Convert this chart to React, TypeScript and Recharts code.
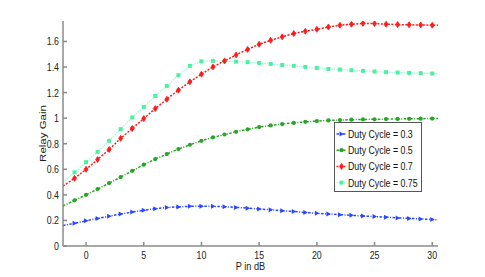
import React from "react";
import { Legend, Line, LineChart, XAxis, YAxis } from "recharts";

const P_DB = [-2, -1, 0, 1, 2, 3, 4, 5, 6, 7, 8, 9, 10, 11, 12, 13, 14, 15, 16, 17, 18, 19, 20, 21, 22, 23, 24, 25, 26, 27, 28, 29, 30, 31];
const DUTY_03 = [0.16, 0.177, 0.197, 0.215, 0.233, 0.25, 0.265, 0.28, 0.292, 0.301, 0.306, 0.31, 0.311, 0.31, 0.307, 0.302, 0.296, 0.29, 0.283, 0.276, 0.27, 0.262, 0.256, 0.25, 0.245, 0.24, 0.235, 0.23, 0.225, 0.22, 0.216, 0.212, 0.207, 0.203];
const DUTY_05 = [0.313, 0.357, 0.4, 0.445, 0.492, 0.539, 0.588, 0.636, 0.68, 0.719, 0.758, 0.792, 0.823, 0.85, 0.872, 0.893, 0.913, 0.93, 0.943, 0.954, 0.963, 0.971, 0.977, 0.982, 0.985, 0.988, 0.99, 0.991, 0.993, 0.994, 0.995, 0.996, 0.997, 0.998];
const DUTY_07 = [0.469, 0.529, 0.6, 0.677, 0.755, 0.842, 0.919, 0.997, 1.075, 1.148, 1.219, 1.284, 1.344, 1.401, 1.448, 1.495, 1.538, 1.578, 1.609, 1.636, 1.662, 1.68, 1.695, 1.713, 1.727, 1.734, 1.742, 1.74, 1.735, 1.732, 1.73, 1.729, 1.727, 1.726];
const DUTY_075 = [0.498, 0.576, 0.656, 0.737, 0.823, 0.914, 1.005, 1.088, 1.174, 1.252, 1.336, 1.409, 1.445, 1.448, 1.445, 1.442, 1.438, 1.432, 1.424, 1.416, 1.409, 1.401, 1.393, 1.385, 1.38, 1.375, 1.37, 1.365, 1.36, 1.357, 1.354, 1.352, 1.349, 1.347];

const X_TICKS = [0, 5, 10, 15, 20, 25, 30];
const Y_TICKS = [0, 0.2, 0.4, 0.6, 0.8, 1, 1.2, 1.4, 1.6];
const SERIES_NAMES = ["Duty Cycle = 0.3", "Duty Cycle = 0.5", "Duty Cycle = 0.7", "Duty Cycle = 0.75"];

const data = P_DB.map((p, i) => ({ p, d03: DUTY_03[i], d05: DUTY_05[i], d07: DUTY_07[i], d075: DUTY_075[i] }));

const FONT = "'Liberation Sans', Arial, sans-serif";
const AXIS = "#8a8a8a";

const BLUE = "#2a45ff";
const GREEN = "#28a428";
const RED = "#ff1a1a";
const CYAN = "#4cf0a0";
const CYAN_LINE = "#9dffd6";

type Shape = "tri" | "circle" | "plus" | "square";

function marker(shape: Shape, color: string, cx: number, cy: number, key?: string | number) {
  if (shape === "tri") return <path key={key} d={`M${cx - 2},${cy - 2.5}L${cx + 2.5},${cy}L${cx - 2},${cy + 2.5}Z`} fill={color} />;
  if (shape === "circle") return <circle key={key} cx={cx} cy={cy} r={2.1} fill={color} />;
  if (shape === "plus")
    return <path key={key} d={`M${cx - 2},${cy}L${cx},${cy - 3}L${cx + 2},${cy}L${cx},${cy + 3}Z`} fill={color} stroke={color} strokeWidth={0.8} />;
  return <rect key={key} x={cx - 2} y={cy - 2} width={4} height={4} fill={color} />;
}

function dotFor(shape: Shape, color: string) {
  return (props: any) => {
    const { cx, cy, payload, index } = props;
    if (payload.p < -1.5 || payload.p > 30.2 || cx == null) return <g key={`e${index}`} />;
    return marker(shape, color, cx, cy, `d${index}`);
  };
}

function XTick(props: any) {
  const { x, y, payload } = props;
  return (
    <text transform={`translate(${x},${y}) scale(0.8,1)`} textAnchor="middle" dominantBaseline="hanging" fontSize={11} fontFamily={FONT} fill="#222">
      {payload.value}
    </text>
  );
}

function YTick(props: any) {
  const { x, y, payload } = props;
  return (
    <text transform={`translate(${x},${y + 4}) scale(0.8,1)`} textAnchor="end" fontSize={11} fontFamily={FONT} fill="#222">
      {payload.value}
    </text>
  );
}

const legendItems: { shape: Shape; color: string; dash: string; width: number }[] = [
  { shape: "tri", color: BLUE, dash: "2.5 1.5 1 1.5", width: 1.5 },
  { shape: "circle", color: GREEN, dash: "2.5 1.5 1 1.5", width: 1.5 },
  { shape: "plus", color: RED, dash: "2 1.5", width: 1.5 },
  { shape: "square", color: CYAN, dash: "1.5 1", width: 1 },
];

function LegendBox() {
  return (
    <svg width={88} height={70} style={{ display: "block" }}>
      <rect x={0.5} y={0.5} width={87} height={69} fill="#fff" stroke="#555" strokeWidth={1} />
      {legendItems.map((it, i) => {
        const cy = 12 + i * 16.2;
        return (
          <g key={i}>
            <line x1={2.5} x2={13} y1={cy} y2={cy} stroke={it.shape === "square" ? CYAN_LINE : it.color} strokeWidth={it.width} strokeDasharray={it.dash} />
            {marker(it.shape, it.color, 7.5, cy)}
            <text transform={`translate(14,${cy + 4}) scale(0.8,1)`} fontSize={11} fontFamily={FONT} fill="#111">
              {SERIES_NAMES[i]}
            </text>
          </g>
        );
      })}
    </svg>
  );
}

export default function App() {
  return (
    <div style={{ position: "absolute", left: 0, top: 0, background: "#fff" }}>
      <LineChart width={485} height={277} data={data} margin={{ top: 21, right: 47, bottom: 0, left: 0 }}>
        <XAxis
          dataKey="p"
          type="number"
          domain={[-2, 30.5]}
          allowDataOverflow
          ticks={X_TICKS}
          height={31}
          tickSize={-4}
          tickMargin={9}
          tick={<XTick />}
          stroke={AXIS}
          strokeWidth={1.5}
          label={{
            content: () => (
              <text transform="translate(250.5,270) scale(0.8,1)" textAnchor="middle" fontSize={11.5} fontFamily={FONT} fill="#222">
                P in dB
              </text>
            ),
          }}
        />
        <XAxis xAxisId="top" orientation="top" dataKey="p" type="number" domain={[-2, 30.5]} allowDataOverflow ticks={X_TICKS} height={0} tickSize={-4} tick={false} stroke="#666" />
        <YAxis
          type="number"
          domain={[0, 1.76]}
          allowDataOverflow
          ticks={Y_TICKS}
          width={63}
          tickSize={-4}
          tickMargin={8}
          tick={<YTick />}
          stroke={AXIS}
          strokeWidth={1.5}
          label={{
            content: () => (
              <text transform="translate(46,133.5) rotate(-90) scale(1,0.8)" textAnchor="middle" fontSize={11.5} fontFamily={FONT} fill="#222">
                Relay Gain
              </text>
            ),
          }}
        />
        <YAxis yAxisId="right" orientation="right" type="number" domain={[0, 1.76]} ticks={Y_TICKS} width={0} tickSize={-4} tick={false} stroke={AXIS} strokeWidth={1.5} />
        <Line dataKey="d075" name={SERIES_NAMES[3]} stroke={CYAN_LINE} strokeWidth={1.3} strokeDasharray="1.5 1" dot={dotFor("square", CYAN)} isAnimationActive={false} />
        <Line dataKey="d03" name={SERIES_NAMES[0]} stroke={BLUE} strokeWidth={1.5} strokeDasharray="2.5 1.5 1 1.5" dot={dotFor("tri", BLUE)} isAnimationActive={false} />
        <Line dataKey="d05" name={SERIES_NAMES[1]} stroke={GREEN} strokeWidth={1.5} strokeDasharray="2.5 1.5 1 1.5" dot={dotFor("circle", GREEN)} isAnimationActive={false} />
        <Line dataKey="d07" name={SERIES_NAMES[2]} stroke={RED} strokeWidth={1.5} strokeDasharray="2 1.5" dot={dotFor("plus", RED)} isAnimationActive={false} />
        <Legend layout="vertical" align="center" verticalAlign="middle" content={() => <LegendBox />} wrapperStyle={{ left: 334, top: 122, width: 88, height: 70 }} />
      </LineChart>
    </div>
  );
}
